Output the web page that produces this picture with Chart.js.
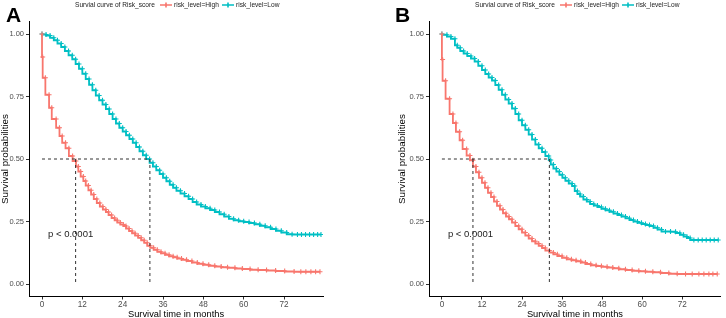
<!DOCTYPE html>
<html><head><meta charset="utf-8">
<script src="https://cdn.jsdelivr.net/npm/chart.js@4.4.0/dist/chart.umd.min.js"></script>
<style>
html,body{margin:0;padding:0;background:#fff;width:726px;height:318px;overflow:hidden}
.wrap{position:absolute;top:0;width:363px;height:318px}
canvas{display:block}
</style></head><body>
<div class="wrap" style="left:0"><canvas id="cA" width="363" height="318" style="width:363px;height:318px"></canvas></div>
<div class="wrap" style="left:363px"><canvas id="cB" width="363" height="318" style="width:363px;height:318px"></canvas></div>
<script>
// ---------- data ----------
const xTicks = [0, 12, 24, 36, 48, 60, 72];
const yTicks = [0, 0.25, 0.5, 0.75, 1];
const seriesNames = ['risk_level=High', 'risk_level=Low'];
const legendTitle = 'Survial curve of Risk_score';
const pText = 'p < 0.0001';

// Panel A
const highTimeA = [0,0.2,1.0,2.1,2.9,4.2,5.2,6.0,7.0,8.0,9.1,10.1,10.8,11.5,12.3,13.0,13.8,14.6,15.4,16.3,17.2,18.1,19.0,19.8,20.7,21.6,22.4,23.3,24.2,25.0,25.9,26.8,27.7,28.6,29.5,30.4,31.3,32.2,33.2,34.3,35.4,36.6,37.8,39.0,40.2,41.5,43.0,44.6,46.2,47.9,49.6,51.4,53.3,55.2,57.4,59.6,61.9,64.3,66.8,69.5,72.2,75.0,77.0,78.5,80.0,81.4,82.7];
const highSurvA = [1.000,0.908,0.825,0.757,0.705,0.660,0.625,0.592,0.565,0.543,0.512,0.492,0.470,0.450,0.430,0.412,0.394,0.375,0.358,0.340,0.324,0.310,0.298,0.288,0.276,0.264,0.255,0.246,0.238,0.232,0.222,0.212,0.203,0.194,0.185,0.175,0.165,0.153,0.145,0.137,0.129,0.123,0.117,0.111,0.107,0.102,0.097,0.092,0.086,0.081,0.077,0.073,0.070,0.067,0.065,0.062,0.060,0.057,0.056,0.054,0.052,0.050,0.049,0.049,0.049,0.049,0.049];
const lowTimeA = [0,1.2,2.4,3.5,4.6,5.7,6.8,7.9,9.0,10.0,11.0,12.0,13.0,14.0,15.0,16.0,17.0,18.0,19.0,20.0,21.0,22.0,23.0,24.0,25.0,26.0,27.0,28.0,29.0,30.0,31.0,32.0,33.0,34.0,35.0,36.0,37.0,38.0,39.0,40.0,41.2,42.4,43.6,44.8,46.0,47.3,48.6,50.0,51.4,52.8,54.2,55.6,57.0,58.5,60.0,61.6,63.2,64.8,66.4,68.0,69.6,71.2,72.8,74.4,76.0,77.2,78.4,79.6,80.8,82.0,83.0];
const lowSurvA = [1.000,0.998,0.994,0.985,0.975,0.962,0.948,0.932,0.915,0.899,0.880,0.861,0.841,0.820,0.797,0.775,0.754,0.735,0.718,0.700,0.680,0.660,0.642,0.625,0.610,0.595,0.580,0.565,0.548,0.531,0.515,0.500,0.485,0.470,0.455,0.440,0.425,0.411,0.397,0.385,0.373,0.362,0.351,0.340,0.328,0.318,0.310,0.303,0.296,0.288,0.279,0.270,0.261,0.255,0.251,0.248,0.244,0.239,0.233,0.227,0.220,0.213,0.206,0.199,0.198,0.198,0.198,0.198,0.198,0.198,0.198];
const mediansA = [10.0, 32.1];

// Panel B
const highTimeB = [0,0.2,1.1,2.3,3.3,4.2,5.3,6.2,7.4,8.4,9.3,10.2,11.1,12.0,12.9,13.8,14.7,15.6,16.5,17.4,18.3,19.2,20.1,21.0,22.0,23.0,24.0,25.0,26.0,27.0,28.0,29.0,30.0,31.0,32.2,33.4,34.6,36.0,37.4,38.8,40.2,41.6,43.0,44.6,46.2,47.8,49.5,51.2,53.0,55.0,57.0,59.0,61.0,63.2,65.5,68.0,70.5,73.0,75.0,77.0,78.5,80.0,81.2,82.5];
const highSurvB = [1.000,0.898,0.813,0.741,0.680,0.644,0.609,0.575,0.540,0.514,0.495,0.470,0.447,0.425,0.405,0.385,0.365,0.348,0.330,0.313,0.298,0.283,0.270,0.259,0.246,0.232,0.219,0.206,0.194,0.182,0.171,0.162,0.153,0.144,0.134,0.126,0.119,0.112,0.105,0.099,0.095,0.091,0.086,0.080,0.075,0.072,0.069,0.066,0.063,0.059,0.056,0.053,0.051,0.049,0.047,0.044,0.041,0.040,0.040,0.040,0.040,0.040,0.040,0.040];
const lowTimeB = [0,1.5,2.7,3.9,4.6,5.5,6.5,7.6,8.7,9.8,10.9,12.0,13.0,14.0,15.0,16.0,17.0,18.0,19.0,20.0,21.0,22.0,23.0,24.0,25.0,26.0,27.0,28.0,29.0,30.0,31.0,32.0,32.6,33.4,34.3,35.2,36.1,37.0,38.0,39.0,39.8,40.6,41.4,42.4,43.4,44.4,45.5,46.6,47.8,49.0,50.2,51.4,52.6,53.8,55.0,56.2,57.4,58.6,59.8,61.0,62.2,63.4,64.6,65.8,67.0,68.5,70.0,71.3,72.4,73.4,74.4,75.5,76.8,78.0,79.2,80.4,81.6,82.8];
const lowSurvB = [1.000,0.997,0.990,0.981,0.955,0.945,0.932,0.922,0.912,0.902,0.890,0.873,0.856,0.840,0.826,0.814,0.796,0.777,0.757,0.738,0.722,0.702,0.680,0.655,0.635,0.617,0.598,0.578,0.558,0.543,0.528,0.512,0.496,0.478,0.462,0.450,0.437,0.425,0.413,0.402,0.392,0.372,0.360,0.350,0.338,0.330,0.320,0.314,0.308,0.301,0.295,0.289,0.282,0.276,0.270,0.263,0.256,0.250,0.245,0.240,0.236,0.232,0.225,0.218,0.210,0.210,0.209,0.204,0.197,0.190,0.184,0.176,0.176,0.176,0.176,0.176,0.176,0.176];
const mediansB = [9.3, 32.2];

// ---------- styling ----------
const RED = '#F8766D', CYAN = '#00BFC4';
const FONT = '"Liberation Sans", Arial, sans-serif';

const overlay = {
  id: 'overlay',
  afterDatasetsDraw(chart, args, o) {
    const {ctx, scales: {x, y}} = chart;
    ctx.save();
    ctx.setLineDash([3, 3]);
    ctx.strokeStyle = '#333';
    ctx.lineWidth = 1;
    const y5 = y.getPixelForValue(0.5), y0 = y.getPixelForValue(0);
    const mx = Math.max(...o.medians);
    ctx.beginPath();
    ctx.moveTo(x.getPixelForValue(0), y5); ctx.lineTo(x.getPixelForValue(mx), y5);
    o.medians.forEach(m => { const px = x.getPixelForValue(m); ctx.moveTo(px, y5); ctx.lineTo(px, y0); });
    ctx.stroke();
    ctx.setLineDash([]);
    ctx.fillStyle = '#222';
    ctx.font = '9.5px ' + FONT;
    ctx.textBaseline = 'middle';
    ctx.textAlign = 'left';
    ctx.fillText(pText, x.getPixelForValue(1.8), y.getPixelForValue(0.2));
    ctx.restore();
  },
  afterDraw(chart, args, o) {
    const {ctx, chartArea: ca} = chart;
    const L = ca.left;
    ctx.save();
    const ly = 5;
    ctx.font = '6.6px ' + FONT;
    ctx.fillStyle = '#222';
    ctx.textBaseline = 'middle';
    ctx.textAlign = 'left';
    ctx.fillText(legendTitle, L + 46, ly);
    const items = [[RED, seriesNames[0], 131], [CYAN, seriesNames[1], 193]];
    items.forEach(([c, t, off]) => {
      ctx.strokeStyle = c; ctx.lineWidth = 1.6;
      ctx.beginPath();
      ctx.moveTo(L + off, ly); ctx.lineTo(L + off + 12, ly);
      ctx.moveTo(L + off + 6, ly - 2.5); ctx.lineTo(L + off + 6, ly + 2.5);
      ctx.stroke();
      ctx.fillStyle = '#222';
      ctx.fillText(t, L + off + 14, ly);
    });
    ctx.font = 'bold 21px ' + FONT;
    ctx.fillStyle = '#000';
    ctx.textBaseline = 'alphabetic';
    ctx.fillText(o.label, o.labelX, 22);
    ctx.restore();
  }
};

function makeChart(id, hT, hS, lT, lS, medians, cfg) {
  const mk = (T, S) => T.map((t, i) => ({x: t, y: S[i]}));
  return new Chart(document.getElementById(id), {
    type: 'line',
    data: {
      datasets: [
        {label: seriesNames[0], data: mk(hT, hS), borderColor: RED, backgroundColor: RED},
        {label: seriesNames[1], data: mk(lT, lS), borderColor: CYAN, backgroundColor: CYAN}
      ]
    },
    options: {
      responsive: false,
      animation: false,
      events: [],
      datasets: {line: {stepped: 'after', borderWidth: 1.8, pointStyle: 'cross', pointRadius: 2.5, pointBorderWidth: 1.1, fill: false, tension: 0}},
      layout: {padding: {top: 21.5, right: cfg.padRight, bottom: 0, left: cfg.padLeft}},
      plugins: {legend: {display: false}, tooltip: {enabled: false}, overlay: {medians, label: cfg.label, labelX: cfg.labelX}},
      scales: {
        x: {
          type: 'linear', min: -3.87, max: 83.6,
          afterBuildTicks: s => { s.ticks = xTicks.map(v => ({value: v})); },
          afterFit: s => { s.height = 21.5; },
          grid: {display: true, drawOnChartArea: false, drawTicks: true, tickLength: 3, color: '#333'},
          border: {display: true, color: '#000', width: 1},
          ticks: {padding: 0, color: '#4d4d4d', font: {family: FONT, size: 8.2}},
          title: {display: true, text: 'Survival time in months', color: '#000', font: {family: FONT, size: 9.3, lineHeight: 1}, padding: {top: 0, bottom: -1}}
        },
        y: {
          type: 'linear', min: -0.05, max: 1.05,
          afterBuildTicks: s => { s.ticks = yTicks.map(v => ({value: v})); },
          afterFit: s => { s.width = cfg.yWidth; },
          grid: {display: true, drawOnChartArea: false, drawTicks: true, tickLength: 3, color: '#333'},
          border: {display: true, color: '#000', width: 1},
          ticks: {padding: 2, color: '#4d4d4d', font: {family: FONT, size: 7.5}, callback: v => v.toFixed(2)},
          title: {display: true, text: 'Survival probabilities', color: '#000', font: {family: FONT, size: 9.8, lineHeight: 1}, padding: 0}
        }
      }
    },
    plugins: [overlay]
  });
}

makeChart('cA', highTimeA, highSurvA, lowTimeA, lowSurvA, mediansA, {padLeft: 0, yWidth: 29, padRight: 40, label: 'A', labelX: 6});
makeChart('cB', highTimeB, highSurvB, lowTimeB, lowSurvB, mediansB, {padLeft: 34, yWidth: 32, padRight: 3, label: 'B', labelX: 32});
</script>
</body></html>
